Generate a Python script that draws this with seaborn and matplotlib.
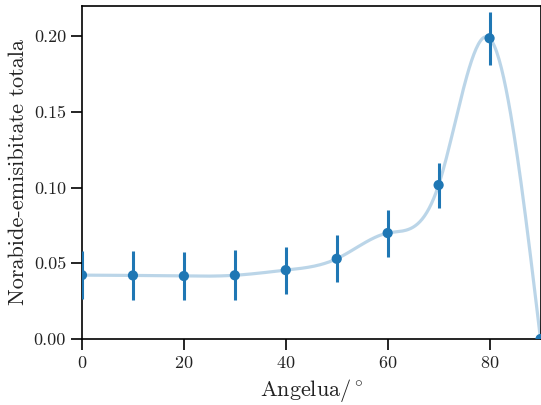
import numpy as np
import pandas as pd
import matplotlib
matplotlib.use("Agg")
import matplotlib.pyplot as plt
import seaborn as sns

angles = [0, 10, 20, 30, 40, 50, 60, 70, 80, 90]
emissivity = [0.0422, 0.0420, 0.0416, 0.0421, 0.0455, 0.0530, 0.0700, 0.1017, 0.1987, 0.0]
errors = [0.016, 0.016, 0.016, 0.0165, 0.0156, 0.0155, 0.0155, 0.0149, 0.0175, 0.0]

sns.set_theme(style="ticks")
plt.rcParams["font.family"] = ["cmr10"]
plt.rcParams["mathtext.fontset"] = "cm"
plt.rcParams["axes.formatter.use_mathtext"] = True


def natural_spline(x, y, xs):
    x = np.asarray(x, float)
    y = np.asarray(y, float)
    n = len(x)
    h = np.diff(x)
    A = np.zeros((n, n))
    b = np.zeros(n)
    A[0, 0] = 1
    A[-1, -1] = 1
    for i in range(1, n - 1):
        A[i, i - 1] = h[i - 1]
        A[i, i] = 2 * (h[i - 1] + h[i])
        A[i, i + 1] = h[i]
        b[i] = 6 * ((y[i + 1] - y[i]) / h[i] - (y[i] - y[i - 1]) / h[i - 1])
    M = np.linalg.solve(A, b)
    idx = np.clip(np.searchsorted(x, xs) - 1, 0, n - 2)
    x0, x1 = x[idx], x[idx + 1]
    hh = x1 - x0
    t0 = x1 - xs
    t1 = xs - x0
    return (M[idx] * t0**3 / (6 * hh) + M[idx + 1] * t1**3 / (6 * hh)
            + (y[idx] / hh - M[idx] * hh / 6) * t0
            + (y[idx + 1] / hh - M[idx + 1] * hh / 6) * t1)


xs = np.linspace(0, 90, 400)
curve = pd.DataFrame({"x": xs, "y": natural_spline(angles, emissivity, xs)})
pts = pd.DataFrame({"x": angles, "y": emissivity, "e": errors})

fig, ax = plt.subplots(figsize=(5.41, 4.05), dpi=100)
fig.subplots_adjust(left=82 / 541, right=540.5 / 541, top=1 - 6 / 405, bottom=1 - 339 / 405)

c0 = "#1f77b4"
sns.lineplot(data=curve, x="x", y="y", ax=ax, color=c0, alpha=0.3, linewidth=2.3)
ax.errorbar(pts["x"], pts["y"], yerr=pts["e"], fmt="none", ecolor=c0, elinewidth=2.2, zorder=3)
sns.scatterplot(data=pts, x="x", y="y", ax=ax, color=c0, s=54, edgecolor="none", zorder=4)

ax.set_xlim(0, 90)
ax.set_ylim(0, 0.22)
ax.set_xticks([0, 20, 40, 60, 80])
ax.set_yticks([0.0, 0.05, 0.10, 0.15, 0.20])
ax.set_yticklabels(["0.00", "0.05", "0.10", "0.15", "0.20"])
ax.set_xlabel(r"Angelua/$^\circ$", fontsize=16, color="#222222")
ax.set_ylabel("Norabide-emisibitate totala", fontsize=16, color="#222222")
ax.tick_params(axis="both", labelsize=13, length=8, width=1.2, color="black", labelcolor="#222222")
for s in ax.spines.values():
    s.set_linewidth(1.2)
    s.set_color("black")

fig.savefig("out.png", dpi=100)
